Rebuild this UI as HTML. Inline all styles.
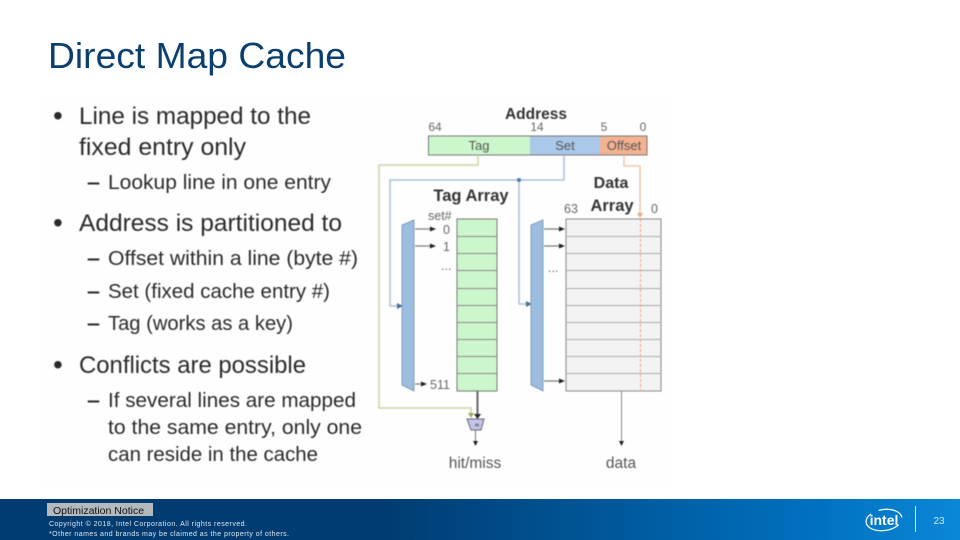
<!DOCTYPE html>
<html><head><meta charset="utf-8">
<style>
html,body{margin:0;padding:0;background:#fff}
body{width:960px;height:540px;overflow:hidden;position:relative;font-family:"Liberation Sans",sans-serif}
</style></head>
<body>
<svg width="960" height="540" viewBox="0 0 960 540" xmlns="http://www.w3.org/2000/svg" style="position:absolute;left:0;top:0">
<defs>
<linearGradient id="f" x1="0" x2="1" y1="0" y2="0">
<stop offset="0" stop-color="#003c71"/><stop offset=".4" stop-color="#003c71"/><stop offset=".85" stop-color="#0071c0"/><stop offset="1" stop-color="#0a88d6"/>
</linearGradient>
</defs>
<rect width="960" height="540" fill="#fff"/>
<text x="48" y="68" font-size="36" fill="#0b3f6e" textLength="298" lengthAdjust="spacingAndGlyphs">Direct Map Cache</text>

<g style="filter:blur(.6px)" font-family="Liberation Sans" fill="#2a2a2a">
<rect x="40" y="95" width="630" height="390" fill="#fefefe"/>
<g font-size="24">
<text x="79" y="124" textLength="232" lengthAdjust="spacingAndGlyphs">Line is mapped to the</text>
<text x="79" y="155" textLength="167" lengthAdjust="spacingAndGlyphs">fixed entry only</text>
<text x="79" y="231" textLength="263" lengthAdjust="spacingAndGlyphs">Address is partitioned to</text>
<text x="79" y="373" textLength="227" lengthAdjust="spacingAndGlyphs">Conflicts are possible</text>
</g>
<g font-size="28">
<text x="53" y="125">•</text><text x="53" y="232">•</text><text x="53" y="374">•</text>
</g>
<g font-size="20.500">
<text x="87" y="189" textLength="13" lengthAdjust="spacingAndGlyphs" font-weight="bold">–</text><text x="108" y="189" textLength="223" lengthAdjust="spacingAndGlyphs">Lookup line in one entry</text>
<text x="87" y="265" textLength="13" lengthAdjust="spacingAndGlyphs" font-weight="bold">–</text><text x="108" y="265" textLength="250" lengthAdjust="spacingAndGlyphs">Offset within a line (byte #)</text>
<text x="87" y="298" textLength="13" lengthAdjust="spacingAndGlyphs" font-weight="bold">–</text><text x="108" y="298" textLength="222" lengthAdjust="spacingAndGlyphs">Set (fixed cache entry #)</text>
<text x="87" y="330" textLength="13" lengthAdjust="spacingAndGlyphs" font-weight="bold">–</text><text x="108" y="330" textLength="185" lengthAdjust="spacingAndGlyphs">Tag (works as a key)</text>
<text x="87" y="407" textLength="13" lengthAdjust="spacingAndGlyphs" font-weight="bold">–</text><text x="108" y="407" textLength="248" lengthAdjust="spacingAndGlyphs">If several lines are mapped</text>
<text x="108" y="434" textLength="254" lengthAdjust="spacingAndGlyphs">to the same entry, only one</text>
<text x="108" y="461" textLength="210" lengthAdjust="spacingAndGlyphs">can reside in the cache</text>
</g>

<!-- Address -->
<text x="536" y="119" font-size="15.500" font-weight="bold" text-anchor="middle" fill="#333">Address</text>
<rect x="500" y="119.500" width="72" height="4" fill="#fefefe"/>
<g font-size="12" fill="#666" text-anchor="middle">
<text x="435" y="131">64</text><text x="537" y="131">14</text><text x="604" y="131">5</text><text x="643" y="131">0</text>
</g>
<rect x="428.500" y="136" width="102" height="19" fill="#ccf7cc"/>
<rect x="530" y="136" width="70" height="19" fill="#a9c8ea"/>
<rect x="600" y="136" width="47" height="19" fill="#f4b290"/>
<rect x="428.500" y="136" width="218.500" height="19" fill="none" stroke="#777" stroke-width="1"/>
<g font-size="13" text-anchor="middle" fill="#555">
<text x="479" y="150">Tag</text><text x="565" y="150">Set</text><text x="624" y="150">Offset</text>
</g>

<!-- connectors -->
<polyline points="478,155 478,165 379,165 379,408 471,408 471,414" fill="none" stroke="#c9d3a8" stroke-width="1.500"/>
<polygon points="468,413 474,413 471,418" fill="#9aa860"/>
<polyline points="564,155 564,180 390,180 390,306 399,306" fill="none" stroke="#a9c0d8" stroke-width="1.500"/>
<polygon points="397,303 403,306 397,309" fill="#4a6f98"/>
<polyline points="519,180 519,304 528,304" fill="none" stroke="#a9c0d8" stroke-width="1.500"/>
<polygon points="526,301 532,304 526,307" fill="#4a6f98"/>
<circle cx="519" cy="180" r="2" fill="#4a7ab0"/>
<polyline points="624,155 624,166 640,166 640,216" fill="none" stroke="#f2c8a8" stroke-width="1.500"/>
<polygon points="637,213 643,213 640,218" fill="#e8a878"/>

<text x="471" y="201" font-size="16.500" font-weight="bold" text-anchor="middle" fill="#333">Tag Array</text>
<text x="611" y="188" font-size="16" font-weight="bold" text-anchor="middle" fill="#333">Data</text>
<text x="612" y="211" font-size="16.500" font-weight="bold" text-anchor="middle" fill="#333">Array</text>
<g font-size="12.500" fill="#666">
<text x="428" y="220">set#</text>
<text x="564" y="213">63</text><text x="651" y="213">0</text>
<text x="443" y="234">0</text><text x="443" y="251">1</text>
<text x="441" y="270">...</text><text x="430" y="389">511</text>
<text x="548" y="272">...</text>
</g>

<!-- Tag array -->
<rect x="457" y="219" width="40" height="172" fill="#ccf7cc" stroke="#777" stroke-width="1"/>
<g stroke="#888" stroke-width="1">
<path d="M457 236.500H497M457 253.500H497M457 270.500H497M457 288.500H497M457 305.500H497M457 322.500H497M457 339.500H497M457 356.500H497M457 373.500H497"/>
</g>
<!-- Data array -->
<rect x="566" y="219" width="95" height="172" fill="#f3f3f3" stroke="#888" stroke-width="1"/>
<g stroke="#aaa" stroke-width="1">
<path d="M566 236.500H661M566 253.500H661M566 270.500H661M566 288.500H661M566 305.500H661M566 322.500H661M566 339.500H661M566 356.500H661M566 373.500H661"/>
</g>
<line x1="640.500" y1="219" x2="640.500" y2="391" stroke="#f0a080" stroke-width="1" stroke-dasharray="3 2"/>

<!-- Muxes -->
<polygon points="402,225 414,220 414,391 402,385" fill="#9dbde0" stroke="#6f8fb0" stroke-width=".8"/>
<polygon points="531,225 543,220 543,391 531,385" fill="#9dbde0" stroke="#6f8fb0" stroke-width=".8"/>
<g stroke="#777" stroke-width="1.200" fill="#222">
<line x1="415" y1="229" x2="430" y2="229"/><line x1="415" y1="246" x2="430" y2="246"/><line x1="415" y1="384" x2="422" y2="384"/>
<line x1="544" y1="229" x2="560" y2="229"/><line x1="544" y1="246" x2="560" y2="246"/><line x1="544" y1="381" x2="560" y2="381"/>
</g>
<g fill="#222">
<polygon points="430,226.500 436,229 430,231.500"/><polygon points="430,243.500 436,246 430,248.500"/><polygon points="421,381.500 427,384 421,386.500"/>
<polygon points="559,226.500 565,229 559,231.500"/><polygon points="559,243.500 565,246 559,248.500"/><polygon points="559,378.500 565,381 559,383.500"/>
</g>

<!-- Bottom -->
<line x1="477.500" y1="391" x2="477.500" y2="414" stroke="#666" stroke-width="2"/>
<polygon points="474,414 481,414 477.500,419" fill="#222"/>
<polygon points="467,419 484,419 481,430 471,430" fill="#c5c5e8" stroke="#667" stroke-width="1"/>
<line x1="475" y1="425" x2="479" y2="425" stroke="#889" stroke-width="3"/>
<line x1="475.500" y1="430" x2="475.500" y2="441" stroke="#777" stroke-width="1"/>
<polygon points="473,441 478,441 475.500,446" fill="#222"/>
<line x1="621.500" y1="391" x2="621.500" y2="441" stroke="#888" stroke-width="1"/>
<polygon points="619,441 624,441 621.500,446" fill="#222"/>
<text x="475" y="468" font-size="15.500" text-anchor="middle" fill="#555">hit/miss</text>
<text x="621" y="468" font-size="15.500" text-anchor="middle" fill="#555">data</text>
</g>

<!-- Footer -->
<rect x="0" y="499" width="960" height="41" fill="url(#f)"/>
<rect x="47" y="503" width="106" height="13" fill="#b4b9bd"/>
<text x="53" y="514" font-size="10.500" fill="#111">Optimization Notice</text>
<text x="49" y="526" font-size="7" fill="#dfe8f0" textLength="198" lengthAdjust="spacing">Copyright © 2018, Intel Corporation. All rights reserved.</text>
<text x="49" y="536" font-size="7" fill="#dfe8f0" textLength="240" lengthAdjust="spacing">*Other names and brands may be claimed as the property of others.</text>
<ellipse cx="884" cy="520" rx="18" ry="10.500" fill="none" stroke="#fff" stroke-width="1.200" transform="rotate(-8 884 520)" stroke-dasharray="48 8" stroke-dashoffset="-8"/>
<text x="884" y="525" font-size="14" font-weight="bold" fill="#fff" text-anchor="middle">intel</text>
<line x1="915.500" y1="506" x2="915.500" y2="532" stroke="#cfe4f5" stroke-width="1"/>
<text x="939" y="524" font-size="10" fill="#cfe4f5" text-anchor="middle">23</text>
</svg>
</body></html>
